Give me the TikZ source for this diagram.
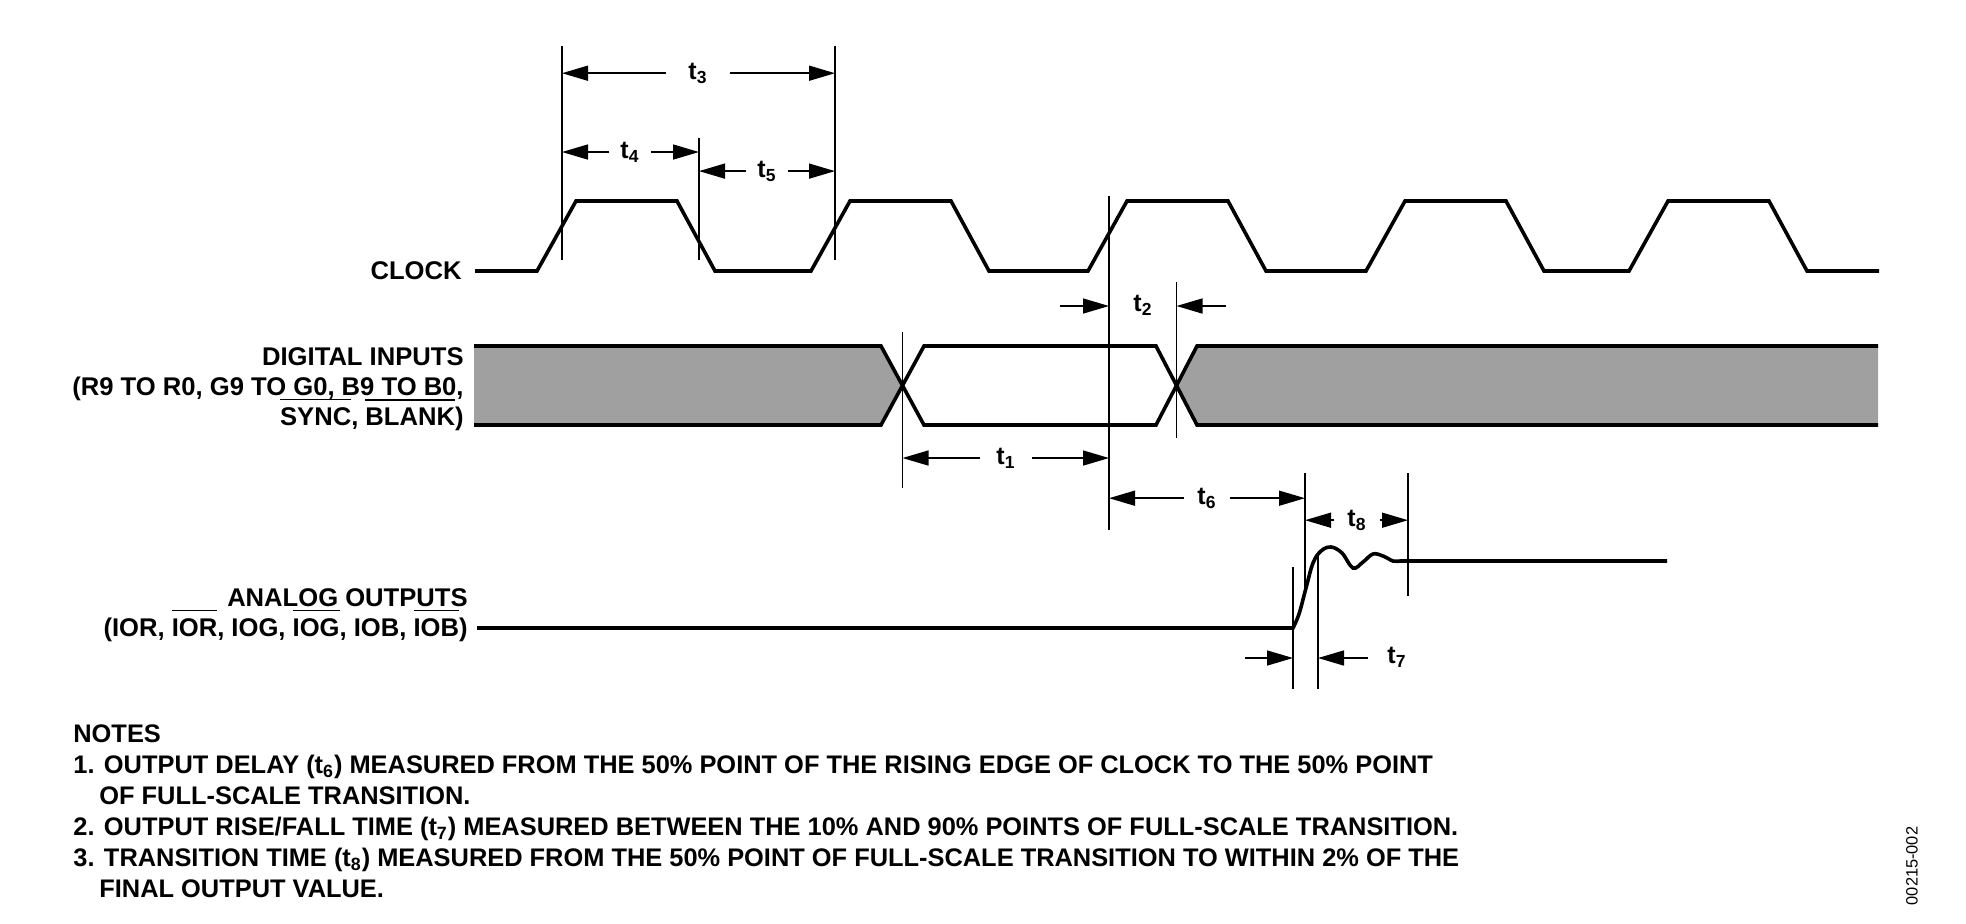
\documentclass[tikz,border=0pt]{standalone}
\usepackage{fontspec}
\setmainfont{Liberation Sans}
\usetikzlibrary{arrows.meta,positioning,calc}
\definecolor{busgray}{RGB}{160,160,160}
\newcommand\ovl[1]{\setbox0\hbox{#1}\rlap{\smash{\raisebox{\dimexpr\ht0+3.5pt\relax}{\rule{\wd0}{0.7pt}}}}\box0}

\begin{document}
\begin{tikzpicture}[x=0.5pt,y=-0.5pt,>={Triangle[length=13pt,width=7.5pt]},
  wave/.style={line width=1.8pt,line join=miter},
  guide/.style={line width=0.75pt},
  dim/.style={line width=0.75pt,->},
  lbl/.style={font=\fontsize{12.8}{15}\selectfont\bfseries,inner sep=0pt},
  tlbl/.style={font=\fontsize{12.5}{15}\selectfont\bfseries,inner ysep=1pt,inner xsep=5.4pt,anchor=mid}]
\useasboundingbox (0,0) rectangle (1966,923);

\node[lbl,anchor=east] (clk) at (462,271) {CLOCK};
\node[lbl,align=right,anchor=north east] (din) at (464,347) {DIGITAL INPUTS\\(R9 TO R0, G9 TO G0, B9 TO B0,\\\ovl{SYNC}, \ovl{BLANK})};
\node[lbl,align=right,anchor=north east] (aout) at (468,588) {ANALOG OUTPUTS\\(IOR, \ovl{IOR}, IOG, \ovl{IOG}, IOB, \ovl{IOB})};

\draw[wave] (475,271) foreach \r in {537,811,1088,1366,1629} {
  -- (\r,271) -- (\r+39,201) -- (\r+140,201) -- (\r+178,271) } -- (1879,271);

\fill[busgray] (474,346) -- (881,346) -- (902.5,385.5) -- (881,425) -- (474,425) -- cycle;
\fill[busgray] (1197,346) -- (1878,346) -- (1878,425) -- (1197,425) -- (1176.5,385.5) -- cycle;
\draw[wave] (474,346) -- (881,346) -- (924,425) -- (1156,425) -- (1197,346) -- (1878,346);
\draw[wave] (474,425) -- (881,425) -- (924,346) -- (1156,346) -- (1197,425) -- (1878,425);

\draw[wave] (477,628) -- (1293,628) -- plot[smooth,tension=0.6] coordinates {(1293,628) (1299,614)
  (1306,588) (1313,563) (1321,551) (1331,547) (1342,553) (1353,568) (1363,562) (1373,554)
  (1383,556) (1393,561) (1400,561)} -- (1667,561);

\foreach \n/\x/\ya/\yb in {g1/562/46/260, g2/699/138/260, g3/835/46/260, g4/1109/196/530,
  g5/1176.5/282/438, g6/902.5/332/488, g7/1305/473/590, g8/1408/473/596,
  g9/1293/567/689, g10/1318/555/689} {
  \coordinate (\n) at (\x,\ya);
  \draw[guide] (\n) -- (\x,\yb);
}

\node[tlbl,inner xsep=11pt] (t3) at (698,74) {t\textsubscript{3}};
\draw[dim] (t3) -- (g1 |- t3);
\draw[dim] (t3) -- (g3 |- t3);
\node[tlbl] (t4) at (630,153) {t\textsubscript{4}};
\draw[dim] (t4) -- (g1 |- t4);
\draw[dim] (t4) -- (g2 |- t4);
\node[tlbl] (t5) at (767,172) {t\textsubscript{5}};
\draw[dim] (t5) -- (g2 |- t5);
\draw[dim] (t5) -- (g3 |- t5);

\node[tlbl] (t2) at (1143,306) {t\textsubscript{2}};
\coordinate (t2w) at (1060,306);
\coordinate (t2e) at (1226,306);
\draw[dim] (t2w) -- (g4 |- t2w);
\draw[dim] (t2e) -- (g5 |- t2e);

\node[tlbl,inner xsep=8pt] (t1) at (1006,459) {t\textsubscript{1}};
\draw[dim] (t1) -- (g6 |- t1);
\draw[dim] (t1) -- (g4 |- t1);
\node[tlbl,inner xsep=6.6pt] (t6) at (1207,499) {t\textsubscript{6}};
\draw[dim] (t6) -- (g4 |- t6);
\draw[dim] (t6) -- (g7 |- t6);
\node[tlbl,inner xsep=6.4pt] (t8) at (1357,521) {t\textsubscript{8}};
\draw[dim] (t8) -- (g7 |- t8);
\draw[dim] (t8) -- (g8 |- t8);

\node[tlbl] (t7) at (1397,658) {t\textsubscript{7}};
\coordinate (t7w) at (1245,658);
\coordinate (t7e) at (1368,658);
\draw[dim] (t7w) -- (g9 |- t7w);
\draw[dim] (t7e) -- (g10 |- t7e);

\node[lbl,align=left,anchor=north west,font=\fontsize{12.7}{15.5}\selectfont\bfseries] (notes) at (73,724.5) {NOTES\\
1. OUTPUT DELAY (t\textsubscript{6}) MEASURED FROM THE 50\% POINT OF THE RISING EDGE OF CLOCK TO THE 50\% POINT\\
\hspace*{13pt}OF FULL-SCALE TRANSITION.\\
2. OUTPUT RISE/FALL TIME (t\textsubscript{7}) MEASURED BETWEEN THE 10\% AND 90\% POINTS OF FULL-SCALE TRANSITION.\\
3. TRANSITION TIME (t\textsubscript{8}) MEASURED FROM THE 50\% POINT OF FULL-SCALE TRANSITION TO WITHIN 2\% OF THE\\
\hspace*{13pt}FINAL OUTPUT VALUE.};

\node[rotate=90,inner sep=0pt,font=\fontsize{8.2}{10}\selectfont] (figno) at (1912,866) {00215-002};
\end{tikzpicture}
\end{document}
